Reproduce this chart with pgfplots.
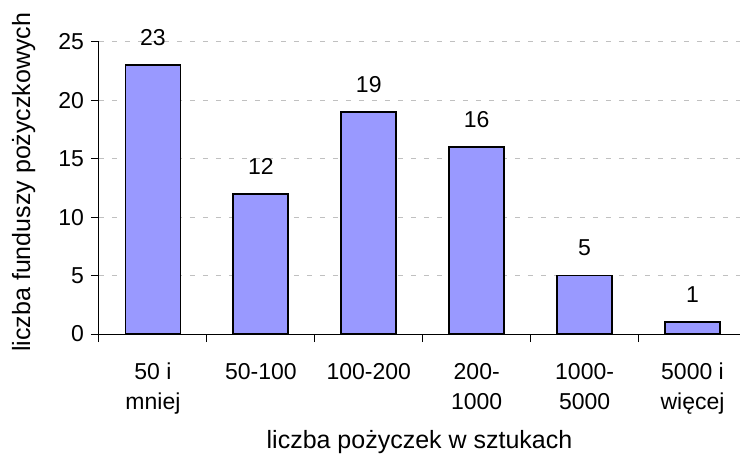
\documentclass[border=0pt]{standalone}
\usepackage{fontspec}
\setmainfont{Liberation Sans}
\usepackage{pgfplots}
\pgfplotsset{compat=1.18}
\definecolor{barblue}{HTML}{9999FF}
\definecolor{gridgray}{HTML}{C0C0C0}

\begin{document}
\begin{tikzpicture}[font=\fontsize{11.5}{15}\selectfont]
\begin{axis}[
    scale only axis,
    width=320.5pt, height=146pt,
    xmin=-0.5, xmax=5.44,
    ymin=0, ymax=25,
    axis x line*=bottom, axis y line*=left,
    axis line style={line width=0.5pt},
    ytick={0,5,...,25},
    xtick={0,...,5},
    xticklabels={{50 i\\mniej},{50-100},{100-200},{200-\\1000},{1000-\\5000},{5000 i\\więcej}},
    minor xtick={-0.5,0.5,...,4.5},
    tick align=outside,
    major tick length=4pt, minor tick length=4pt,
    tick style={black, line width=0.5pt},
    major x tick style={draw=none},
    ymajorgrids,
    major grid style={gridgray, line width=0.5pt, dash pattern=on 2.5pt off 4pt},
    xticklabel style={align=center, anchor=north, yshift=-7pt},
    /pgf/number format/assume math mode=true,
    ylabel={liczba funduszy pożyczkowych},
    ylabel style={font=\fontsize{12.5}{15}\selectfont, at={(axis description cs:-0.1076,0.52)}, anchor=base},
    xlabel={liczba pożyczek w sztukach},
    xlabel style={font=\fontsize{12.5}{15}\selectfont, at={(axis description cs:0.5,-0.392)}, anchor=base},
    ybar, bar width=0.51,
    nodes near coords,
    every node near coord/.append style={yshift=6pt},
]
\addplot[fill=barblue, draw=black, line width=0.9pt] coordinates {
    (0,23) (1,12) (2,19) (3,16) (4,5) (5,1)
};
\coordinate (O) at (rel axis cs:0,0);
\end{axis}
\draw[line width=0.5pt] (O) -- ++(-4pt,0);
\pgfresetboundingbox
\path[use as bounding box] ([shift={(-49.5pt,-61pt)}]O) rectangle ([shift={(321pt,167pt)}]O);
\end{tikzpicture}
\end{document}
